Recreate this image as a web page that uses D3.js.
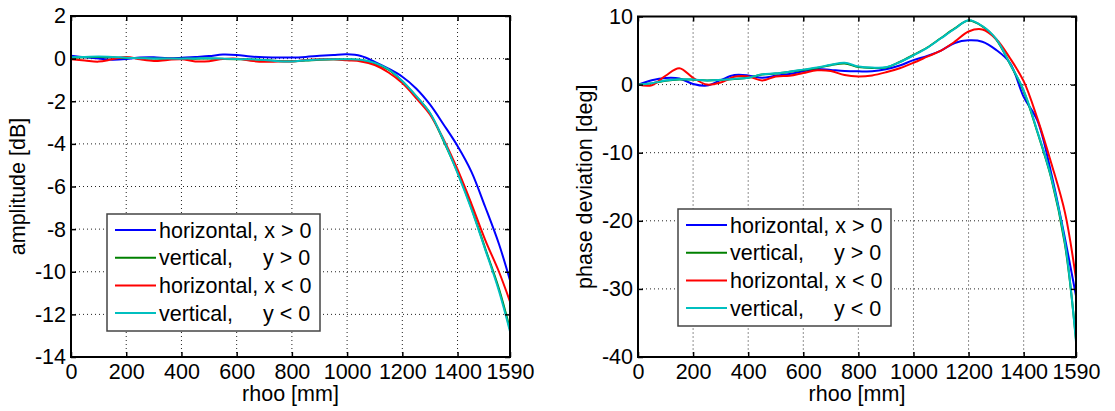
<!DOCTYPE html>
<html lang="en">
<head>
<meta charset="UTF-8">
<title>amplitude and phase deviation vs rhoo</title>
<script src="https://d3js.org/d3.v7.min.js"></script>
<style>
  body { margin: 0; padding: 0; background: #fff; }
  svg text { font-family: "Liberation Sans", Arial, sans-serif; }
  .leg text { white-space: pre; }
</style>
</head>
<body>
<div id="chart"></div>
<script>
// sample positions along rhoo [mm]
const rho = [0, 50, 100, 150, 200, 250, 300, 350, 400, 450, 500, 550, 600, 650, 700, 750,
             800, 850, 900, 950, 1000, 1050, 1100, 1150, 1200, 1250, 1300, 1350, 1400, 1450, 1500, 1550, 1590];

// amplitude [dB]
const ampHorPos = [0.13, 0.06, 0.0, -0.05, -0.02, 0.05, 0.06, 0.02, 0.04, 0.08, 0.12, 0.19, 0.17, 0.1, 0.06, 0.05,
                   0.05, 0.08, 0.13, 0.17, 0.2, 0.12, -0.15, -0.47, -0.85, -1.4, -2.15, -3.1, -4.1, -5.3, -6.95, -8.7, -10.4];
const ampVerPos = [0.04, 0.07, 0.08, 0.06, 0.03, 0.02, 0.0, -0.01, 0.0, 0.0, 0.01, -0.01, -0.03, -0.04, -0.07, -0.11,
                   -0.12, -0.09, -0.05, -0.03, -0.04, -0.06, -0.22, -0.52, -1.07, -1.77, -2.56, -3.88, -5.33, -7.0, -8.9, -10.8, -12.7];
const ampHorNeg = [-0.03, -0.09, -0.14, -0.03, 0.08, -0.03, -0.11, -0.06, -0.03, -0.13, -0.12, -0.02, 0.0, -0.1, -0.15, -0.14,
                   -0.13, -0.07, -0.03, -0.03, -0.08, -0.13, -0.3, -0.65, -1.15, -1.85, -2.62, -3.8, -5.2, -6.8, -8.5, -10.0, -11.4];
const ampVerNeg = [0.06, 0.08, 0.1, 0.08, 0.04, 0.02, 0.01, 0.0, 0.0, 0.01, 0.02, 0.0, -0.02, -0.03, -0.06, -0.12,
                   -0.13, -0.08, -0.04, -0.03, -0.03, -0.05, -0.2, -0.5, -1.05, -1.75, -2.54, -3.85, -5.37, -7.05, -8.95, -10.9, -12.8];

// phase deviation [deg]
const phHorPos = [0, 0.65, 0.98, 0.9, 0.1, -0.15, 0.65, 1.4, 1.35, 1.0, 1.3, 1.55, 1.95, 2.3, 2.15, 2.0,
                  1.95, 1.95, 2.25, 2.8, 3.6, 4.2, 5.0, 6.1, 6.5, 6.3, 5.1, 3.2, -1.8, -5.3, -13.0, -22.6, -31.0];
const phVerPos = [0, 0.18, 0.57, 0.76, 0.72, 0.6, 0.68, 0.83, 1.0, 1.47, 1.62, 1.87, 2.15, 2.45, 2.85, 3.1,
                  2.58, 2.45, 2.5, 3.32, 4.35, 5.45, 6.85, 8.25, 9.4, 8.55, 6.65, 3.05, -0.95, -7.0, -13.7, -23.5, -37.4];
const phHorNeg = [0, -0.1, 1.3, 2.4, 1.0, 0.0, 0.3, 1.15, 1.2, 0.6, 1.2, 1.3, 1.7, 2.1, 2.0, 1.4,
                  1.2, 1.35, 1.8, 2.4, 3.2, 4.1, 5.0, 6.3, 7.8, 8.1, 6.7, 3.9, 0.5, -5.0, -11.5, -18.8, -28.5];
const phVerNeg = [0, 0.2, 0.6, 0.78, 0.75, 0.62, 0.7, 0.85, 1.0, 1.5, 1.65, 1.9, 2.2, 2.5, 2.9, 3.2,
                  2.65, 2.5, 2.55, 3.3, 4.3, 5.4, 6.8, 8.2, 9.45, 8.6, 6.7, 3.1, -0.85, -6.9, -13.6, -23.2, -37.8];

const seriesNames = ["horizontal, x > 0", "vertical,     y > 0", "horizontal, x < 0", "vertical,     y < 0"];
const seriesColors = ["#0000ff", "#008000", "#ff0000", "#00bfbf"];

const xTicks = [0, 200, 400, 600, 800, 1000, 1200, 1400, 1590];
const ampTicks = [2, 0, -2, -4, -6, -8, -10, -12, -14];
const phaseTicks = [10, 0, -10, -20, -30, -40];

var width = 1115, height = 411;
var fontSize = 21.5;

var svg = d3.select("#chart").append("svg")
    .attr("width", width)
    .attr("height", height)
    .attr("viewBox", [0, 0, width, height]);

svg.append("rect").attr("width", width).attr("height", height).attr("fill", "#fff");

function drawPanel(o) {
    var x = d3.scaleLinear().domain([0, 1590]).range([o.left, o.right]);
    var y = d3.scaleLinear().domain(o.yDomain).range([o.bottom, o.top]);
    var g = svg.append("g");

    // dotted grid
    g.selectAll(".vgrid")
        .data(xTicks.slice(1, -1))
        .join("line")
        .attr("x1", d => x(d)).attr("x2", d => x(d))
        .attr("y1", o.top).attr("y2", o.bottom)
        .attr("stroke", "#222").attr("stroke-width", 1)
        .attr("stroke-dasharray", "1 3");
    g.selectAll(".hgrid")
        .data(o.yTicks.slice(1, -1))
        .join("line")
        .attr("x1", o.left).attr("x2", o.right)
        .attr("y1", d => y(d)).attr("y2", d => y(d))
        .attr("stroke", "#222").attr("stroke-width", 1)
        .attr("stroke-dasharray", "1 3");

    // curves
    var line = d3.line()
        .x((d, i) => x(rho[i]))
        .y(d => y(d))
        .curve(d3.curveCatmullRom.alpha(0.5));
    g.selectAll(".curve")
        .data(o.series)
        .join("path")
        .attr("d", d => line(d))
        .attr("fill", "none")
        .attr("stroke", (d, i) => seriesColors[i])
        .attr("stroke-width", 2);

    // axes, ticks pointing inward
    var axB = g.append("g").attr("transform", "translate(0," + o.bottom + ")")
        .call(d3.axisBottom(x).tickValues(xTicks).tickFormat(d => String(d))
            .tickSizeInner(-5).tickSizeOuter(0).tickPadding(7));
    var axT = g.append("g").attr("transform", "translate(0," + o.top + ")")
        .call(d3.axisTop(x).tickValues(xTicks).tickFormat("").tickSizeInner(-5).tickSizeOuter(0));
    var axL = g.append("g").attr("transform", "translate(" + o.left + ",0)")
        .call(d3.axisLeft(y).tickValues(o.yTicks).tickFormat(d => String(d))
            .tickSizeInner(-5).tickSizeOuter(0).tickPadding(5));
    var axR = g.append("g").attr("transform", "translate(" + o.right + ",0)")
        .call(d3.axisRight(y).tickValues(o.yTicks).tickFormat("").tickSizeInner(-5).tickSizeOuter(0));
    [axB, axT, axL, axR].forEach(function(a) {
        a.select(".domain").remove();
        a.selectAll(".tick line").attr("stroke", "#000").attr("stroke-width", 1.5);
        a.selectAll("text")
            .attr("font-family", "'Liberation Sans', Arial, sans-serif")
            .attr("font-size", fontSize)
            .attr("fill", "#000");
    });

    // frame
    g.append("rect")
        .attr("x", o.left).attr("y", o.top)
        .attr("width", o.right - o.left).attr("height", o.bottom - o.top)
        .attr("fill", "none").attr("stroke", "#000").attr("stroke-width", 2);

    // axis labels
    g.append("text")
        .attr("x", (o.left + o.right) / 2)
        .attr("y", o.bottom + 44)
        .attr("text-anchor", "middle")
        .attr("font-size", fontSize)
        .text("rhoo [mm]");
    g.append("text")
        .attr("transform", "translate(" + (o.left - 46) + "," + ((o.top + o.bottom) / 2) + ") rotate(-90)")
        .attr("text-anchor", "middle")
        .attr("font-size", fontSize)
        .text(o.yLabel);

    // legend
    var leg = g.append("g").attr("class", "leg")
        .attr("transform", "translate(" + o.legX + "," + o.legY + ")");
    leg.append("rect")
        .attr("width", 213).attr("height", 117)
        .attr("fill", "#fff").attr("stroke", "#444").attr("stroke-width", 1.5);
    var items = leg.selectAll(".item")
        .data(seriesNames)
        .join("g")
        .attr("transform", (d, i) => "translate(0," + (16 + i * 27.7) + ")");
    items.append("line")
        .attr("x1", 8).attr("x2", 49)
        .attr("stroke", (d, i) => seriesColors[i])
        .attr("stroke-width", 2);
    items.append("text")
        .attr("x", 52)
        .attr("dy", "0.36em")
        .attr("font-size", fontSize)
        .text(d => d);
}

drawPanel({
    left: 71, right: 510, top: 16, bottom: 357,
    yDomain: [-14, 2], yTicks: ampTicks,
    yLabel: "amplitude [dB]",
    series: [ampHorPos, ampVerPos, ampHorNeg, ampVerNeg],
    legX: 107, legY: 214
});

drawPanel({
    left: 638, right: 1076, top: 16.5, bottom: 357,
    yDomain: [-40, 10], yTicks: phaseTicks,
    yLabel: "phase deviation [deg]",
    series: [phHorPos, phVerPos, phHorNeg, phVerNeg],
    legX: 678, legY: 209
});
</script>
</body>
</html>
